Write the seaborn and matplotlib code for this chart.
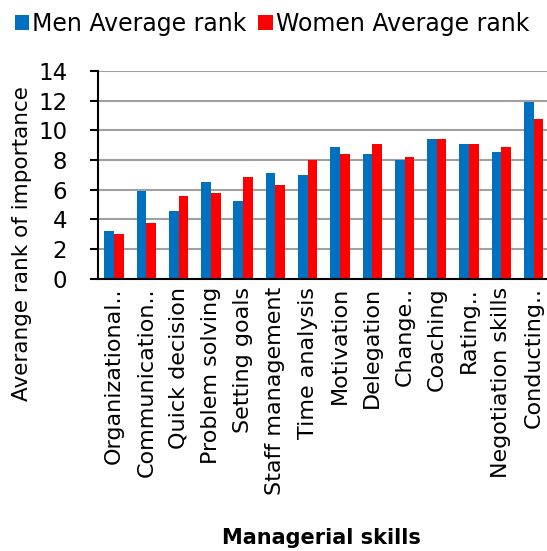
import pandas as pd
import matplotlib
matplotlib.use("Agg")
import matplotlib.pyplot as plt
import seaborn as sns
from matplotlib.ticker import MultipleLocator, FixedLocator

# Values
skills = ["Organizational..", "Communication..", "Quick decision", "Problem solving",
          "Setting goals", "Staff management", "Time analysis", "Motivation",
          "Delegation", "Change..", "Coaching", "Rating..", "Negotiation skills",
          "Conducting.."]
men = [3.2, 5.95, 4.6, 6.5, 5.25, 7.15, 7.0, 8.9, 8.4, 8.0, 9.4, 9.1, 8.55, 11.9]
women = [3.05, 3.75, 5.6, 5.8, 6.85, 6.3, 8.0, 8.4, 9.1, 8.2, 9.4, 9.1, 8.9, 10.8]
series = ["Men Average rank", "Women Average rank"]
colors = ["#0070C0", "#FF0000"]

df = pd.DataFrame({"skill": skills * 2,
                   "rank": men + women,
                   "group": [series[0]] * len(skills) + [series[1]] * len(skills)})

sns.set_style("white")
plt.rcParams["font.family"] = ["DejaVu Sans"]
plt.rcParams["text.color"] = "black"
plt.rcParams["xtick.color"] = "black"
plt.rcParams["ytick.color"] = "black"

fig = plt.figure(figsize=(5.47, 5.51), dpi=100)
ax = fig.add_axes([0.179, 0.494, 0.826, 0.377])

sns.barplot(data=df, x="skill", y="rank", hue="group", palette=colors,
            width=0.6, saturation=1, linewidth=0, ax=ax, legend=True)

ax.set_ylim(0, 14)
ax.set_xlim(-0.5, len(skills) - 0.5)
ax.yaxis.set_major_locator(MultipleLocator(2))
ax.grid(axis="y", color="#a0a0a0", linewidth=1.5)
ax.set_axisbelow(True)
for s in ["top", "right"]:
    ax.spines[s].set_visible(False)
for s in ["left", "bottom"]:
    ax.spines[s].set_color("black")
    ax.spines[s].set_linewidth(1.5)

# tick marks between categories
ax.xaxis.set_minor_locator(FixedLocator([i - 0.5 for i in range(len(skills) + 1)]))
ax.tick_params(axis="x", which="major", length=0, labelsize=16, rotation=90, pad=6)
ax.tick_params(axis="x", which="minor", length=5, width=1.5, direction="out", color="black")
ax.tick_params(axis="y", length=6, width=1.5, direction="out", color="black",
               labelsize=16.5, left=True, pad=16)

ax.set_xlabel("")
ax.set_ylabel("")
fig.text(321 / 547, 1 - 538 / 551, "Managerial skills", fontsize=15, fontweight="bold",
         ha="center", va="center")
fig.text(22 / 547, 1 - 244 / 551, "Averange rank of importance", fontsize=15.5,
         rotation=90, ha="center", va="center")

handles, labels = ax.get_legend_handles_labels()
ax.get_legend().remove()
fig.legend(handles, labels, loc="upper left", bbox_to_anchor=(0.005, 1.0), ncol=2,
           frameon=False, fontsize=17, handlelength=0.6, handleheight=0.6,
           handletextpad=0.15, columnspacing=0.5, borderaxespad=0.1)

fig.savefig("out.png", dpi=100)
